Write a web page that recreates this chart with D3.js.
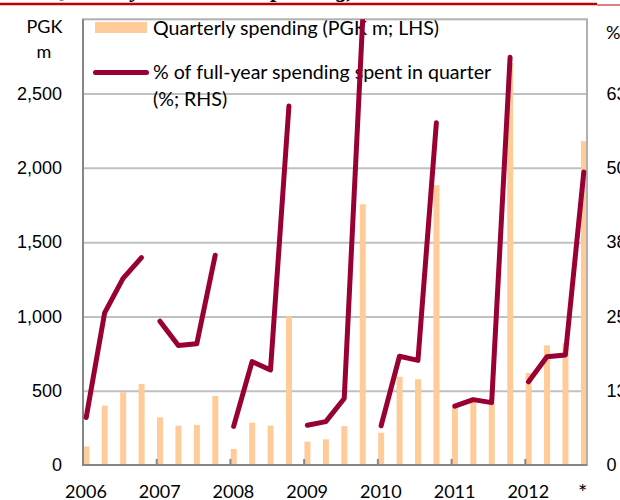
<!DOCTYPE html>
<html>
<head>
<meta charset="utf-8">
<script src="https://cdn.jsdelivr.net/npm/d3@7/dist/d3.min.js"></script>
<style>
  body { margin: 0; background: #fff; }
  svg { display: block; font-family: Lato, "Open Sans", sans-serif; }
</style>
</head>
<body>
<svg id="chart" width="620" height="500"></svg>
<script>
// quarters 2006Q1 .. 2012Q4
var years = ["2006", "2007", "2008", "2009", "2010", "2011", "2012"];
var quarters = ["Q1", "Q2", "Q3", "Q4"];

// quarterly spending, PGK m (LHS)
var spending = [
  125, 400, 490, 545,
  320, 265, 270, 465,
  108, 285, 265, 1000,
  157, 173, 262, 1755,
  217, 594, 577, 1884,
  390, 435, 415, 2705,
  620, 805, 820, 2180
];

// % of full-year spending spent in quarter (RHS)
var share = [
  8.0, 25.6, 31.4, 34.9,
  24.2, 20.1, 20.4, 35.3,
  6.5, 17.4, 16.0, 60.4,
  6.7, 7.3, 11.2, 74.8,
  6.6, 18.3, 17.6, 57.6,
  9.9, 11.0, 10.5, 68.6,
  14.0, 18.2, 18.5, 49.3
];

var leftTicks = [0, 500, 1000, 1500, 2000, 2500];
var rightTicks = [0, 12.5, 25, 37.5, 50, 62.5];
var xLabels = years.concat(["*"]);

var barColor = "#ffcc99", lineColor = "#990033";

var plot = {left: 83, right: 587, top: 19.3, bottom: 465};
var step = 18.43;

var svg = d3.select("#chart");

var x = d3.scaleLinear()
  .domain([0, 28])
  .range([plot.left, plot.left + 28 * step]);

var yL = d3.scaleLinear().domain([0, 3000]).range([plot.bottom, plot.top]);
var yR = d3.scaleLinear().domain([0, 75]).range([plot.bottom, plot.top]);

svg.append("clipPath").attr("id", "plotclip")
  .append("rect")
  .attr("x", plot.left).attr("y", plot.top)
  .attr("width", plot.right - plot.left).attr("height", plot.bottom - plot.top);

// cut-off title and red rule at the top
svg.append("text")
  .attr("x", 356).attr("y", -3)
  .attr("text-anchor", "end")
  .attr("font-family", "Liberation Serif, serif")
  .attr("font-weight", "bold").attr("font-style", "italic")
  .attr("font-size", 23)
  .text("Quarterly and annual spending)");
svg.append("line").attr("x1", 0).attr("x2", 597).attr("y1", 4).attr("y2", 4)
  .attr("stroke", "#c00000").attr("stroke-width", 2.5);
svg.append("line").attr("x1", 597).attr("x2", 620).attr("y1", 5).attr("y2", 5)
  .attr("stroke", "#c00000").attr("stroke-width", 1);

// gridlines
svg.append("g")
  .attr("transform", "translate(" + plot.left + ",0)")
  .call(d3.axisLeft(yL).tickValues(leftTicks.slice(1)).tickSize(-(plot.right - plot.left)).tickFormat(""))
  .call(function(g) { g.select(".domain").remove(); })
  .selectAll("line").attr("stroke", "#c0c0c0").attr("stroke-width", 2);

// bars
svg.append("g").attr("clip-path", "url(#plotclip)")
  .selectAll("rect").data(spending)
  .enter().append("rect")
  .attr("x", function(d, i) { return x(i) + 0.3; })
  .attr("width", 6)
  .attr("y", function(d) { return yL(d); })
  .attr("height", function(d) { return yL(0) - yL(d); })
  .attr("fill", barColor);

// frame
svg.append("rect")
  .attr("x", plot.left).attr("y", plot.top)
  .attr("width", plot.right - plot.left).attr("height", plot.bottom - plot.top)
  .attr("fill", "none").attr("stroke", "#b0b0b0").attr("stroke-width", 2);
svg.append("path")
  .attr("d", "M" + plot.left + "," + plot.top + "V" + plot.bottom + "H" + plot.right)
  .attr("fill", "none").attr("stroke", "#868686").attr("stroke-width", 2);

// year tick marks
svg.append("g").selectAll("line").data(d3.range(1, 7))
  .enter().append("line")
  .attr("x1", function(k) { return x(4 * k); })
  .attr("x2", function(k) { return x(4 * k); })
  .attr("y1", plot.bottom).attr("y2", plot.bottom - 6)
  .attr("stroke", "#868686").attr("stroke-width", 2);

// x labels
svg.append("g").selectAll("text").data(xLabels)
  .enter().append("text")
  .attr("x", function(d, i) { return i < years.length ? x(4 * i) + 3 : x(27) + 2; })
  .attr("y", function(d, i) { return i < years.length ? 498 : 500; })
  .attr("text-anchor", "middle")
  .attr("font-size", function(d, i) { return i < years.length ? 18 : 22; })
  .text(function(d) { return d; });

// left axis
svg.append("g")
  .attr("transform", "translate(" + plot.left + ",0)")
  .call(d3.axisLeft(yL).tickValues(leftTicks).tickFormat(d3.format(",")).tickSize(0).tickPadding(21))
  .call(function(g) { g.select(".domain").remove(); })
  .selectAll("text").attr("font-size", 18).attr("font-family", null).attr("fill", "#000");

// right axis
svg.append("g")
  .attr("transform", "translate(" + plot.right + ",0)")
  .call(d3.axisRight(yR).tickValues(rightTicks).tickFormat(function(d) { return Math.round(d); }).tickSize(0).tickPadding(19.5))
  .call(function(g) { g.select(".domain").remove(); })
  .selectAll("text").attr("font-size", 18).attr("font-family", null).attr("fill", "#000");

// axis units
svg.append("text").attr("x", 44.5).attr("y", 32.5).attr("text-anchor", "middle").attr("font-size", 18).text("PGK");
svg.append("text").attr("x", 44).attr("y", 58).attr("text-anchor", "middle").attr("font-size", 18).text("m");
svg.append("text").attr("x", 606).attr("y", 39).attr("font-size", 18).text("%");

// legend
var legend = svg.append("g").attr("font-size", 19.6);
legend.append("rect").attr("x", 95).attr("y", 22).attr("width", 52).attr("height", 11).attr("fill", barColor);
legend.append("text").attr("x", 153).attr("y", 35).text("Quarterly spending (PGK m; LHS)");
legend.append("line").attr("x1", 95.5).attr("x2", 146.5).attr("y1", 72.5).attr("y2", 72.5)
  .attr("stroke", lineColor).attr("stroke-width", 5).attr("stroke-linecap", "round");
legend.append("text").attr("x", 153).attr("y", 79).text("% of full-year spending spent in quarter");
legend.append("text").attr("x", 153).attr("y", 106).text("(%; RHS)");

// line: one segment per year
var line = d3.line()
  .x(function(d) { return x(d.i) + 3.2; })
  .y(function(d) { return yR(d.v); });

var segs = years.map(function(yr, k) {
  return share.slice(4 * k, 4 * k + 4).map(function(v, q) { return {i: 4 * k + q, v: v}; });
});

svg.append("g").attr("clip-path", "url(#plotclip)")
  .selectAll("path").data(segs)
  .enter().append("path")
  .attr("d", line)
  .attr("fill", "none")
  .attr("stroke", lineColor)
  .attr("stroke-width", 5)
  .attr("stroke-linejoin", "round")
  .attr("stroke-linecap", "round");
</script>
</body>
</html>
